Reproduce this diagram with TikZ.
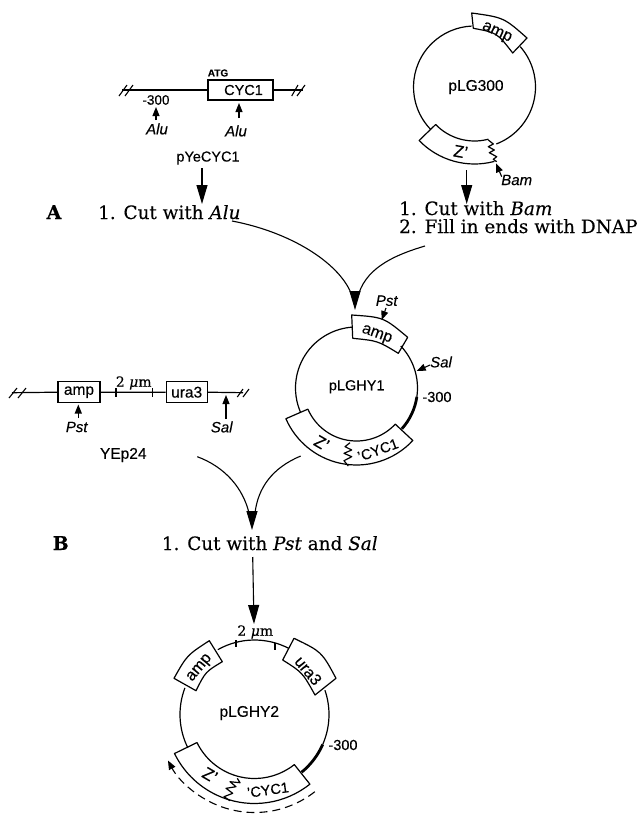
\documentclass[tikz,border=0pt]{standalone}
\usepackage{fontspec}
\setmainfont{DejaVu Serif}[FakeBold=0.25]
\setsansfont{Liberation Sans}[FakeBold=0.3]
\usetikzlibrary{arrows.meta,calc}
\newcommand{\sz}[1]{\fontsize{#1}{#1}\selectfont}
\newcommand{\ringseg}[5]{\draw[plasmid,shift={(#1)}] (#2:#5) arc[start angle=#2,end angle=#3,radius=#5] -- (#3:#4) arc[start angle=#3,end angle=#2,radius=#4] -- cycle;}
\newcommand{\arcseg}[5][plasmid]{\draw[#1,shift={(#2)}] (#3:#5) arc[start angle=#3,end angle=#4,radius=#5];}
\tikzset{
  plasmid/.style={line width=1.2pt,line join=round},
  thickdna/.style={line width=2.8pt},
  dna/.style={line width=1.2pt},
  genebox/.style={draw,line width=1.2pt,inner sep=0pt,font=\sz{15.5}\sffamily},
  lab/.style={inner sep=0pt,font=\sz{14.5}\sffamily},
  gen/.style={inner sep=0pt,font=\sz{16}\sffamily},
  site/.style={inner sep=0pt,font=\sz{15}\sffamily\itshape},
  step text/.style={inner sep=0pt,anchor=base west,font=\sz{18.4}},
  big/.style={line width=1.1pt,-{Triangle[length=19pt,width=11pt]}},
  curve/.style={line width=1.1pt},
  small/.style={line width=1.1pt,-{Triangle[length=9pt,width=7pt]}},
  slash/.style={line width=1.1pt},
}
\begin{document}
\begin{tikzpicture}[x=1pt,y=1pt,yscale=-1]
\useasboundingbox (0,0) rectangle (639,814);
% top left fragment
\node[genebox,font=\sz{14.5}\sffamily,minimum width=65pt,minimum height=20pt] (cyc) at (240.5,90) {\hspace{6pt}CYC1};
\coordinate (la) at (122,90); \coordinate (lb) at (303,90);
\draw[dna,line width=1.8pt] (la) -- (cyc.west) (cyc.east) -- (lb);
\draw[slash] (119,96) -- (127,85) (125,96) -- (133,85) (291.7,96) -- (298,85) (297,96) -- (305,85);
\node[inner sep=0pt,font=\sz{10}\sffamily\bfseries] (atg) at (218,73) {ATG};
\node[lab,font=\sz{13.5}\sffamily] (m300a) at (156,100) {-300};
\node[site] (alua) at (157,129) {Alu};
\node[site] (alub) at (236,131) {Alu};
\coordinate (a1s) at (156,120); \coordinate (a1e) at (156,107);
\coordinate (a2s) at (239,118); \coordinate (a2e) at (239,103);
\draw[small] (a1s) -- (a1e);
\draw[small] (a2s) -- (a2e);
\node[lab] (pye) at (208,158) {pYeCYC1};
\node[step text] (cutalu) at (98,219) {1. Cut with \textit{Alu}};
\node[inner sep=0pt,anchor=base,font=\sz{19}\bfseries] (A) at (54,219) {A};
\coordinate (a3s) at (202,168); \coordinate (a3e) at (202,204);
\draw[big] (a3s) -- (a3e);
% pLG300
\coordinate (c1) at (474.5,87);
\arcseg{c1}{-41.5}{69}{61}
\arcseg{c1}{136.3}{267.3}{61}
\draw[plasmid] (471.7,13) .. controls (503.8,17.5) .. (527,38) -- (512.7,53) .. controls (497,32.7) .. (473.3,28.3) -- cycle;
\draw[plasmid,shift={(c1)}] (75:77) arc[start angle=75,end angle=136,radius=77] -- (136:54) arc[start angle=136,end angle=75,radius=54];
\draw[plasmid] (488.3,140) -- (493.3,144) -- (488.3,146.7) -- (494.3,150) -- (489.3,152.7) -- (496.7,156.7) -- (493.3,159.3) -- (496.7,161.7);
\node[lab,font=\sz{15.5}\sffamily] (lg300) at (476,87) {pLG300};
\node[gen,rotate=-25] (amp1) at (496.7,33) {amp};
\node[gen,font=\sz{17}\sffamily,rotate=-10] (z1) at (460.7,151.7) {Z'};
\node[site] (bam) at (516.7,180) {Bam};
\coordinate (b1s) at (501.7,176.7); \coordinate (b1e) at (496,163.3);
\draw[small] (b1s) -- (b1e);
\coordinate (b2s) at (466.7,170); \coordinate (b2e) at (466.7,204);
\draw[big] (b2s) -- (b2e);
\node[step text] (cutbam) at (399,215) {1. Cut with \textit{Bam}};
\node[step text] (fill) at (399,233) {2. Fill in ends with DNAP};
% merging curves
\coordinate (t1) at (355,310); \coordinate (t1h) at (355,291);
\coordinate (c1s) at (232,221); \coordinate (c2s) at (425,246);
\coordinate (c1e) at (351,293); \coordinate (c2e) at (359,293);
\draw[curve] (c1s) .. controls (290,232) and (338,262) .. (c1e);
\draw[curve] (c2s) .. controls (398,254) and (368,266) .. (c2e);
\draw[big] (t1h) -- (t1);
% pLGHY1
\coordinate (c2) at (356.5,388);
\arcseg{c2}{-43.5}{8.3}{61}
\arcseg[thickdna]{c2}{8.3}{42}{61}
\arcseg{c2}{157}{266.4}{61}
\draw[plasmid] (351.7,315) .. controls (383.7,317.2) .. (407.7,337.3) -- (398.3,353.3) .. controls (377.8,340.8) .. (352.7,338.3) -- cycle;
\ringseg{c2}{43}{156.5}{53}{77}
\draw[plasmid] (350,442.7) -- (345,446.7) -- (351.7,450) -- (344,453.3) -- (351.7,456.7) -- (344,460.7) -- (348.3,466);
\node[lab] (hy1) at (356.7,386.7) {pLGHY1};
\node[gen,rotate=-20] (amp2) at (376.7,335) {amp};
\node[gen,font=\sz{17}\sffamily,rotate=-30] (z2) at (321.7,443) {Z'};
\node[lab,rotate=20] (cyc2) at (378,450) {'CYC1};
\node[lab,font=\sz{14.5}\sffamily] (m300b) at (437,397) {-300};
\node[site] (pst1) at (386.7,300.7) {Pst};
\node[site] (sal1) at (441,362) {Sal};
\coordinate (p1s) at (386,308); \coordinate (p1e) at (381.7,320);
\coordinate (s1s) at (430,365); \coordinate (s1e) at (416.7,371);
\draw[small] (p1s) -- (p1e);
\draw[small] (s1s) -- (s1e);
% YEp24 fragment
\node[genebox,minimum width=42pt,minimum height=21pt] (amp3) at (79,392.2) {amp};
\node[genebox,minimum width=41pt,minimum height=21pt] (ura) at (186.7,392.2) {ura3};
\coordinate (y0) at (12,392.7); \coordinate (y1) at (243,392.7);
\draw[dna] (y0) -- (amp3.west) (amp3.east) -- (ura.west) (ura.east) -- (y1);
\draw[slash] (9,398) -- (17,388) (18,398) -- (26,388) (237.3,397) -- (243,389) (243,397) -- (249,389);
\draw[dna] (116,388) -- (116,397) (152.7,388) -- (152.7,397);
\node[inner sep=0pt,font=\sz{14}] (um) at (133.7,383) {2 \textit{μ}m};
\node[site] (pst2) at (76.7,427) {Pst};
\node[site] (sal2) at (221.7,427) {Sal};
\coordinate (p2s) at (78.3,418); \coordinate (p2e) at (78.3,404.5);
\coordinate (s2s) at (226,419); \coordinate (s2e) at (226,395);
\draw[small] (p2s) -- (p2e);
\draw[small] (s2s) -- (s2e);
\node[lab,font=\sz{15.5}\sffamily] (yep) at (123.3,455) {YEp24};
% lower merge
\coordinate (t2) at (252,530); \coordinate (t2h) at (252,511);
\coordinate (d1s) at (197.3,456.7); \coordinate (d2s) at (300.7,456);
\coordinate (d1e) at (249,513); \coordinate (d2e) at (255,513);
\draw[curve] (d1s) .. controls (225,467) and (243,488) .. (d1e);
\draw[curve] (d2s) .. controls (272,468) and (258,488) .. (d2e);
\draw[big] (t2h) -- (t2);
\node[inner sep=0pt,anchor=base,font=\sz{19}\bfseries] (B) at (60.7,550) {B};
\node[step text] (cutps) at (161.7,550) {1. Cut with \textit{Pst} and \textit{Sal}};
\coordinate (e1) at (252.7,557); \coordinate (e2) at (254,624);
\draw[big] (e1) -- (e2);
% pLGHY2
\coordinate (c3) at (254.5,714.5);
\arcseg{c3}{240.5}{297.5}{74.5}
\arcseg{c3}{-19}{23.7}{74.5}
\arcseg[thickdna]{c3}{23.7}{50.8}{74.5}
\arcseg{c3}{153.4}{200.9}{74.5}
\draw[plasmid] (209.3,640.7) -- (222.3,661.7) .. controls (205.5,671.8) .. (196,690.7) -- (174,678.3) .. controls (187,655.2) .. cycle;
\draw[plasmid] (294,638.3) .. controls (321.7,651.7) .. (336,678.3) -- (315,695) .. controls (302.5,672.5) .. (282.7,660) -- cycle;
\ringseg{c3}{51.5}{154}{64}{89}
\draw[plasmid] (237.3,778.3) -- (240,782.7) -- (230,781.7) -- (236,786.7) -- (226,788.3) -- (232.7,793.3) -- (224,796.7) -- (230,800.7);
\draw[plasmid] (236,640) -- (236,647) (275,643) -- (275,650);
\node[inner sep=0pt,font=\sz{14}] (um2) at (255.3,632) {2 \textit{μ}m};
\node[lab,font=\sz{15.5}\sffamily] (hy2) at (249.3,713) {pLGHY2};
\node[gen,rotate=50] (amp4) at (200,668.3) {amp};
\node[gen,rotate=-50] (ura2) at (308.3,670.7) {ura3};
\node[gen,font=\sz{17}\sffamily,rotate=-30] (z3) at (210,775) {Z'};
\node[lab,rotate=8] (cyc3) at (268,790) {'CYC1};
\node[lab] (m300c) at (343,745) {-300};
\draw[line width=1.1pt,dash pattern=on 8pt off 5pt,-{Triangle[length=9pt,width=7pt]},shift={(c3)}] (52:98) arc[start angle=52,end angle=152,radius=98];
\end{tikzpicture}
\end{document}
